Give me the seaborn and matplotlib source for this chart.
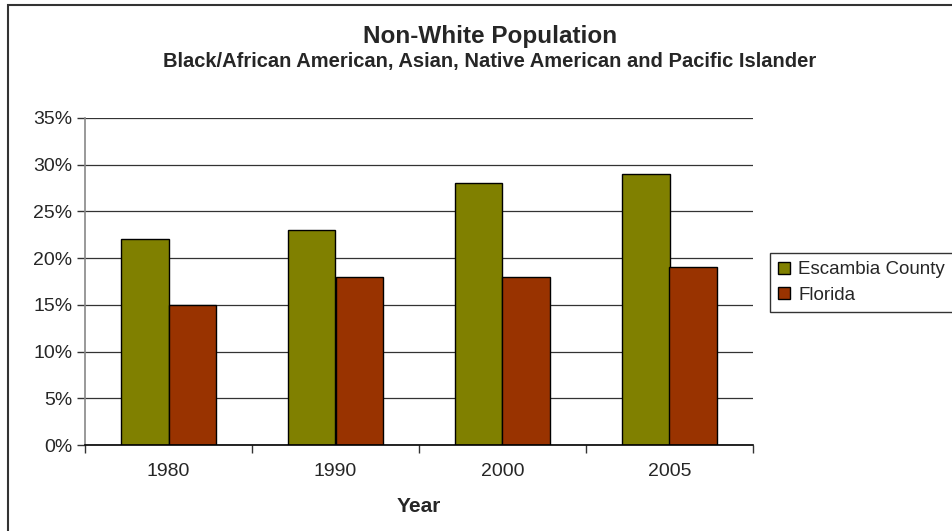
import pandas as pd
import numpy as np
import matplotlib
matplotlib.use("Agg")
import matplotlib.pyplot as plt
import seaborn as sns
from matplotlib.patches import Rectangle
from matplotlib.ticker import FuncFormatter, FixedLocator

years = ["1980", "1990", "2000", "2005"]
escambia = [22, 23, 28, 29]
florida = [15, 18, 18, 19]
series_names = ["Escambia County", "Florida"]
colors = ["#808000", "#993300"]

df = pd.DataFrame({
    "Year": years * 2,
    "Share": escambia + florida,
    "Area": [series_names[0]] * len(years) + [series_names[1]] * len(years),
})

sns.set_style("white")
plt.rcParams["font.family"] = ["Liberation Sans", "DejaVu Sans"]

fig = plt.figure(figsize=(9.53, 5.31), dpi=100)
ax = fig.add_axes([85 / 953, 1 - 445 / 531, (753 - 85) / 953, (445 - 118) / 531])

sns.barplot(data=df, x="Year", y="Share", hue="Area", palette=colors,
            width=0.57, edgecolor="black", linewidth=1.0, saturation=1,
            ax=ax, legend=True)

ax.set_ylim(0, 35)
ax.set_xlim(-0.5, len(years) - 0.5)
ax.set_yticks(np.arange(0, 36, 5))
ax.yaxis.set_major_formatter(FuncFormatter(lambda v, p: f"{v:.0f}%"))
ax.grid(axis="y", color="#333333", linewidth=0.9)
ax.set_axisbelow(True)

# category boundary ticks like Excel
ax.xaxis.set_minor_locator(FixedLocator(np.arange(-0.5, len(years), 1.0)))
ax.tick_params(axis="x", which="major", length=0, pad=13, labelsize=14)
ax.tick_params(axis="x", which="minor", length=6, width=1, color="#333333", direction="out", bottom=True)
ax.tick_params(axis="y", which="major", length=6, width=1, color="#333333", direction="out", left=True, labelsize=14, pad=3)

for side in ["top", "right"]:
    ax.spines[side].set_visible(False)
ax.spines["left"].set_color("#888888")
ax.spines["bottom"].set_color("black")
ax.spines["left"].set_linewidth(1.2)
ax.spines["bottom"].set_linewidth(1.2)

ax.set_ylabel("")
ax.set_xlabel("Year", fontsize=15, fontweight="bold", labelpad=12)

handles, labels = ax.get_legend_handles_labels()
ax.get_legend().remove()
leg = fig.legend(handles, labels, loc="upper left",
                 bbox_to_anchor=(770 / 953, 1 - 253 / 531),
                 frameon=True, fancybox=False, fontsize=13.5,
                 handlelength=0.6, handleheight=0.6, handletextpad=0.45,
                 borderpad=0.45, labelspacing=0.45, borderaxespad=0)
leg.get_frame().set_edgecolor("black")
leg.get_frame().set_linewidth(1.0)

fig.text(490 / 953, 1 - 36 / 531, "Non-White Population", ha="center", va="center",
         fontsize=17.5, fontweight="bold")
fig.text(490 / 953, 1 - 62 / 531,
         "Black/African American, Asian, Native American and Pacific Islander",
         ha="center", va="center", fontsize=14.5, fontweight="bold")

fig.patches.append(Rectangle((8 / 953, -0.1), 1.2, 1 - 5 / 531 + 0.1,
                             transform=fig.transFigure, fill=False,
                             edgecolor="#333333", linewidth=1.5))

fig.savefig("out.png", dpi=100)
